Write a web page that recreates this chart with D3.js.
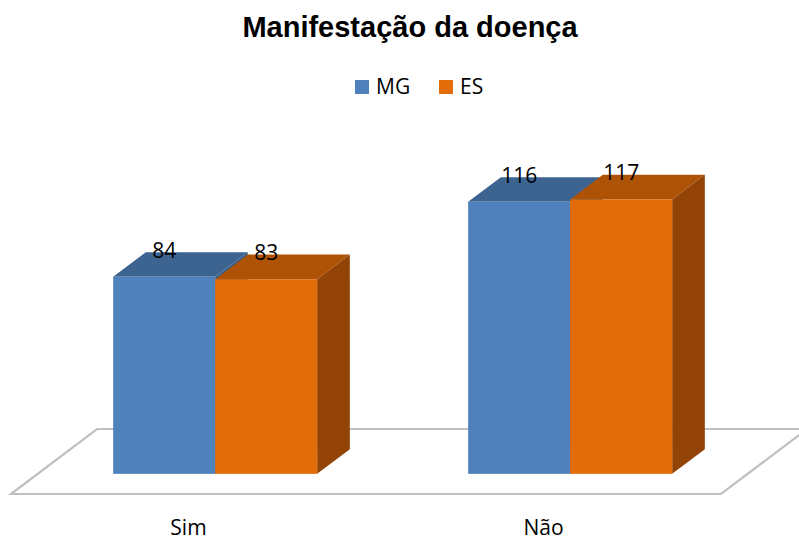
<!DOCTYPE html>
<html>
<head>
<meta charset="utf-8">
<script src="https://cdn.jsdelivr.net/npm/d3@7"></script>
<style>
  body { margin: 0; background: #fff; }
</style>
</head>
<body>
<div id="graph"></div>
<script>
/*global d3 */

var titre = "Manifestação da doença";
var categories = ["Sim", "Não"];
var series = ["MG", "ES"];
var valeurs_MG = [84, 116];
var valeurs_ES = [83, 117];

function dessinBarres3D() {
    "use strict";
    var width = 799,
        height = 538,
        floorFront = 494,           // bord avant du sol
        depth = {x: 86, y: -65},    // profondeur du sol
        zAvant = 0.31, zArriere = 0.69,

        couleurs = {
            MG: {face: "#4f81bd", dessus: "#3d6491", cote: "#375f8e"},
            ES: {face: "#e36c0a", dessus: "#ae5306", cote: "#924305"}
        },

        donnees = categories.map(function (c, i) {
            return {cat: c, valeurs: [
                {serie: "MG", v: valeurs_MG[i]},
                {serie: "ES", v: valeurs_ES[i]}
            ]};
        }),

        svg = d3.select("#graph")
            .append("svg")
                .attr("width", width)
                .attr("height", height),

        x0 = d3.scaleBand()
            .domain(categories)
            .range([11, 721])
            .padding(0),

        x1 = d3.scaleBand()
            .domain(series)
            .range([0, 204]),

        y = d3.scaleLinear()
            .domain([0, 140])
            .range([0, 328.3]),

        baseY = floorFront + depth.y * zAvant,
        dxBar = depth.x * (zArriere - zAvant),
        dyBar = depth.y * (zArriere - zAvant);

    // titre
    svg.append("text")
        .attr("x", 410)
        .attr("y", 37)
        .style("text-anchor", "middle")
        .style("font-family", "Liberation Sans, Arial, sans-serif")
        .style("font-weight", "bold")
        .style("font-size", "29px")
        .text(titre);

    // légende
    var leg = svg.selectAll(".legende")
        .data(series)
        .enter()
        .append("g")
        .attr("transform", function (d, i) { return "translate(" + [355, 439][i] + ",80)"; });
    leg.append("rect")
        .attr("width", 14)
        .attr("height", 14)
        .style("fill", function (d) { return couleurs[d].face; });
    leg.append("text")
        .attr("x", 21)
        .attr("y", 14)
        .style("font-family", "Open Sans, sans-serif")
        .style("font-size", "21px")
        .text(function (d) { return d; });

    // sol
    svg.append("path")
        .attr("d", "M" + x0.range()[0] + "," + floorFront +
            "L" + x0.range()[1] + "," + floorFront +
            "L" + (x0.range()[1] + depth.x) + "," + (floorFront + depth.y) +
            "L" + (x0.range()[0] + depth.x) + "," + (floorFront + depth.y) + "Z")
        .style("fill", "#fff")
        .style("stroke", "#c0c0c0")
        .style("stroke-width", 2.2);

    // barres
    var groupe = svg.selectAll(".groupe")
        .data(donnees)
        .enter()
        .append("g")
        .attr("transform", function (d) {
            var debut = x0(d.cat) + (x0.bandwidth() - 204) / 2 + depth.x * zAvant;
            return "translate(" + debut + "," + baseY + ")";
        });

    var barre = groupe.selectAll(".barre")
        .data(function (d) { return d.valeurs; })
        .enter()
        .append("g");

    // dessus
    barre.append("path")
        .attr("d", function (d) {
            var a = x1(d.serie), b = a + x1.bandwidth(), h = -y(d.v);
            return "M" + a + "," + h + "L" + b + "," + h +
                "L" + (b + dxBar) + "," + (h + dyBar) +
                "L" + (a + dxBar) + "," + (h + dyBar) + "Z";
        })
        .style("fill", function (d) { return couleurs[d.serie].dessus; });
    // côté
    barre.append("path")
        .attr("d", function (d) {
            var b = x1(d.serie) + x1.bandwidth(), h = -y(d.v);
            return "M" + b + ",0L" + b + "," + h +
                "L" + (b + dxBar) + "," + (h + dyBar) +
                "L" + (b + dxBar) + "," + dyBar + "Z";
        })
        .style("fill", function (d) { return couleurs[d.serie].cote; });
    // face
    barre.append("rect")
        .attr("x", function (d) { return x1(d.serie); })
        .attr("y", function (d) { return -y(d.v); })
        .attr("width", x1.bandwidth())
        .attr("height", function (d) { return y(d.v); })
        .style("fill", function (d) { return couleurs[d.serie].face; });

    // étiquettes de valeur
    barre.append("text")
        .attr("x", function (d) { return x1(d.serie) + x1.bandwidth() / 2; })
        .attr("y", function (d) { return -y(d.v) - 19; })
        .style("text-anchor", "middle")
        .style("font-family", "Open Sans, sans-serif")
        .style("font-size", "21px")
        .text(function (d) { return d.v; });

    // catégories
    svg.selectAll(".categorie")
        .data(categories)
        .enter()
        .append("text")
        .attr("x", function (d) { return x0(d) + x0.bandwidth() / 2; })
        .attr("y", 535)
        .style("text-anchor", "middle")
        .style("font-family", "Open Sans, sans-serif")
        .style("font-size", "21px")
        .text(function (d) { return d; });
}

dessinBarres3D();
</script>
</body>
</html>
